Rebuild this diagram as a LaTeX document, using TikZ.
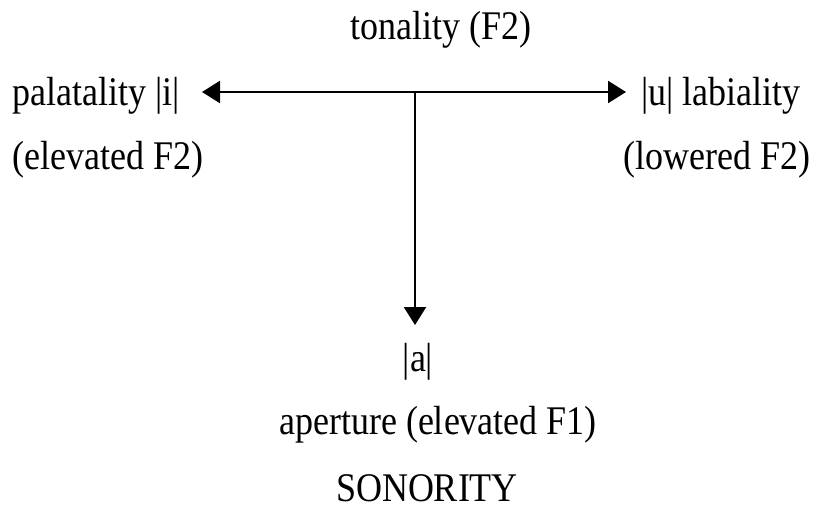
\documentclass[tikz,border=0pt]{standalone}
\usepackage{fontspec}
\usepackage{graphicx}
\setmainfont{Liberation Serif}
\usetikzlibrary{arrows.meta}
\newcommand{\vstretch}[1]{\scalebox{1}[1.13]{#1}}
\begin{document}
\begin{tikzpicture}[x=1pt,y=-1pt,
  lbl/.style={inner sep=0pt, font=\fontsize{36}{40}\selectfont},
  axis/.style={line width=2.4pt, -{Triangle[length=18pt,width=22pt]}}]
\useasboundingbox (0,0) rectangle (817,509);
\node[lbl] (ton) at (441,30) {\vstretch{tonality (F2)}};
\node[lbl, anchor=west] (pal) at (12,96) {\vstretch{palatality |i|}};
\node[lbl, anchor=west] (elev) at (12,160) {\vstretch{(elevated F2)}};
\node[lbl, anchor=east] (lab) at (801,96) {\vstretch{|u| labiality}};
\node[lbl, anchor=east] (low) at (811,160) {\vstretch{(lowered F2)}};
\node[lbl] (a) at (418,362) {\vstretch{|a|}};
\node[lbl] (ap) at (438,425) {\vstretch{aperture (elevated F1)}};
\node[lbl] (son) at (427,488) {\vstretch{SONORITY}};
\coordinate (c) at (415,92);
\coordinate (lt) at (202,92);
\coordinate (rt) at (626,92);
\coordinate (bt) at (415,325);
\draw[axis] (c) -- (lt);
\draw[axis] (c) -- (rt);
\draw[axis] (c) -- (bt);
\end{tikzpicture}
\end{document}
